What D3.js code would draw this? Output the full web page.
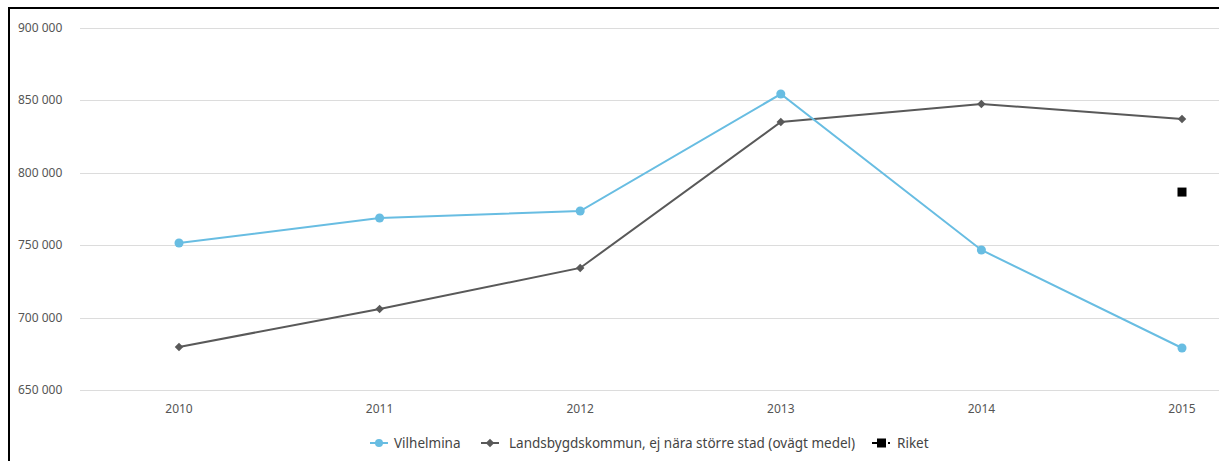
<!DOCTYPE html>
<html>
<head>
<meta charset="utf-8">
<script src="https://cdn.jsdelivr.net/npm/d3@7"></script>
<style>
  html, body { margin: 0; padding: 0; background: #fff; }
  svg { display: block; font-family: "Noto Sans", "DejaVu Sans", sans-serif; }
</style>
</head>
<body>
<svg id="chart" width="1219" height="461"></svg>
<script>
// Data
const years = ["2010", "2011", "2012", "2013", "2014", "2015"];
const vilhelmina = [751500, 768800, 773600, 854400, 746700, 679000];
const landsbygd = [679700, 706000, 734300, 835100, 847500, 837200];
const riketYears = ["2015"];
const riket = [786700];
const yTicks = [650000, 700000, 750000, 800000, 850000, 900000];
const seriesNames = ["Vilhelmina", "Landsbygdskommun, ej nära större stad (ovägt medel)", "Riket"];

const svg = d3.select("#chart");
const W = 1219, H = 461;

// Frame (left and top border)
svg.append("rect").attr("x", 9).attr("y", 8).attr("width", W + 20).attr("height", H + 20)
  .attr("fill", "none").attr("stroke", "#000").attr("stroke-width", 2);

const x = d3.scalePoint().domain(years).range([179, 1182]);
const y = d3.scaleLinear().domain([650000, 900000]).range([390, 28]);

const fmt = v => d3.format(",")(v).replace(/,/g, " ");

// Gridlines
svg.append("g").selectAll("line").data(yTicks).join("line")
  .attr("x1", 80).attr("x2", W)
  .attr("y1", d => Math.round(y(d)) + 0.5).attr("y2", d => Math.round(y(d)) + 0.5)
  .attr("stroke", "#dcdcdc").attr("stroke-width", 1);

// Y labels
svg.append("g").selectAll("text").data(yTicks).join("text")
  .attr("x", 18).attr("y", d => y(d) + 4)
  .attr("font-size", 12).attr("fill", "#555")
  .text(fmt);

// X labels
svg.append("g").selectAll("text").data(years).join("text")
  .attr("x", d => x(d)).attr("y", 413)
  .attr("text-anchor", "middle")
  .attr("font-size", 12).attr("fill", "#555")
  .text(d => d);

const line = d3.line().x(d => x(d.year)).y(d => y(d.value));

const blue = "#68bde2", gray = "#595959";

// Marker shapes: circle, or a square turned 45° for the diamond
function marker(sel, kind, color) {
  if (kind === "diamond") {
    sel.attr("d", d3.symbol().type(d3.symbolSquare).size(36))
      .attr("transform", function () { return d3.select(this).attr("transform") + " rotate(45)"; });
  } else {
    sel.attr("d", d3.symbol().type(d3.symbolCircle).size(64));
  }
  sel.attr("fill", color);
}

function drawSeries(vals, color, kind) {
  const pts = years.map((yr, i) => ({ year: yr, value: vals[i] }));
  svg.append("path").datum(pts).attr("d", line)
    .attr("fill", "none").attr("stroke", color).attr("stroke-width", 2);
  const m = svg.append("g").selectAll("path").data(pts).join("path")
    .attr("transform", d => `translate(${x(d.year)},${y(d.value)})`);
  marker(m, kind, color);
}

drawSeries(landsbygd, gray, "diamond");
drawSeries(vilhelmina, blue, "circle");

// Riket marker
svg.append("g").selectAll("rect").data(riketYears.map((yr, i) => ({ year: yr, value: riket[i] }))).join("rect")
  .attr("x", d => x(d.year) - 4.5).attr("y", d => y(d.value) - 4.5)
  .attr("width", 9).attr("height", 9).attr("fill", "#000");

// Legend
const legend = svg.append("g").attr("font-size", 13.5).attr("fill", "#444");
const ly = 443;
const items = [
  { name: seriesNames[0], color: blue, kind: "circle", lx: 370, tx: 394 },
  { name: seriesNames[1], color: gray, kind: "diamond", lx: 481, tx: 509 },
  { name: seriesNames[2], color: "#000", kind: "square", lx: 872, tx: 897 }
];
items.forEach(it => {
  if (it.kind === "square") {
    legend.append("line").attr("x1", it.lx).attr("x2", it.lx + 6).attr("y1", ly).attr("y2", ly)
      .attr("stroke", "#000").attr("stroke-width", 2);
    legend.append("rect").attr("x", it.lx + 5).attr("y", ly - 4.5).attr("width", 9).attr("height", 9).attr("fill", "#000");
    legend.append("line").attr("x1", it.lx + 16).attr("x2", it.lx + 18).attr("y1", ly).attr("y2", ly)
      .attr("stroke", "#000").attr("stroke-width", 2);
  } else {
    legend.append("line").attr("x1", it.lx).attr("x2", it.lx + 18).attr("y1", ly).attr("y2", ly)
      .attr("stroke", it.color).attr("stroke-width", 2);
    const m = legend.append("path").attr("transform", `translate(${it.lx + 9},${ly})`);
    marker(m, it.kind, it.color);
    if (it.kind === "circle") m.attr("d", d3.symbol().type(d3.symbolCircle).size(50));
  }
  legend.append("text").attr("x", it.tx).attr("y", ly + 5).attr("fill", "#444").text(it.name);
});
</script>
</body>
</html>
